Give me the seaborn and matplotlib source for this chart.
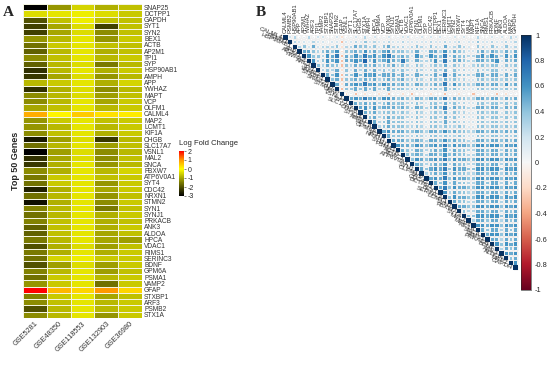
import numpy as np
import pandas as pd
import matplotlib
matplotlib.use("Agg")
import matplotlib.pyplot as plt
from matplotlib.colors import LinearSegmentedColormap, Normalize
import seaborn as sns

sns.set_theme(style="white")
plt.rcParams['font.family'] = ['Liberation Sans', 'DejaVu Sans']
plt.rcParams['axes.unicode_minus'] = False

# ---- panel A data: log fold change of the top 50 genes in 5 datasets ----
genes_a = ["SNAP25", "DCTPP1", "GAPDH", "SYT1", "SYN2", "BEX1", "ACTB", "AP2M1", "TPI1", "SYP",
           "HSP90AB1", "AMPH", "APP", "YWHAZ", "MAPT", "VCP", "OLFM1", "CALML4", "MAP2", "LCMT1",
           "KIF1A", "CHGB", "SLC17A7", "VSNL1", "MAL2", "SNCA", "FBXW7", "ATP6V0A1", "SYT4", "CDC42",
           "NRXN1", "STMN2", "SYN1", "SYNJ1", "PRKACB", "ANK3", "ALDOA", "HPCA", "VDAC1", "RIMS1",
           "SERINC3", "BDNF", "GPM6A", "PSMA1", "VAMP2", "GFAP", "STXBP1", "ARF3", "PSMB2", "STX1A"]
datasets = ["GSE5281", "GSE48350", "GSE118553", "GSE132903", "GSE36980"]

gse5281 = [-3.0, -0.4, -2.0, -2.2, -2.2, -1.2, -1.6, -1.8, -1.3, -1.8,
           -2.4, -2.3, -0.8, -2.4, -1.3, -1.3, -1.0, 0.8, -1.2, -1.2,
           -1.3, -2.7, -1.6, -3.0, -2.4, -2.3, -1.3, -1.5, -1.6, -2.6,
           -1.6, -2.8, -1.4, -1.6, -1.4, -1.8, -1.8, -1.5, -2.0, -1.5,
           -1.6, -2.0, -1.4, -1.6, -1.2, 2.0, -1.4, -1.3, -2.0, -1.3]
gse48350 = [-1.2, -0.3, -0.7, -1.0, -1.0, -0.8, -0.6, -0.8, -0.7, -0.8,
            -0.8, -1.0, -0.6, -0.9, -0.8, -0.8, -0.7, 0.1, -0.6, -0.8,
            -0.7, -1.1, -0.8, -1.1, -1.0, -0.9, -0.9, -0.6, -0.6, -0.9,
            -0.8, -0.9, -0.8, -0.8, -0.7, -0.7, -0.7, -0.8, -0.9, -0.9,
            -0.5, -1.1, -0.8, -0.6, -0.6, 0.7, -0.6, -0.7, -0.8, -0.8]
gse118553 = [-0.5, -0.2, -0.2, -0.4, -0.4, -0.3, -0.3, -0.3, -0.3, -0.4,
             -0.3, -0.4, -0.3, -0.4, -0.4, -0.3, -0.3, 0.5, -0.3, -0.3,
             -0.3, -0.4, -0.3, -0.4, -0.4, -0.3, -0.3, -0.3, -0.3, -0.3,
             -0.3, -0.3, -0.3, -0.3, -0.3, -0.3, -0.3, -0.3, -0.4, -0.3,
             -0.2, -0.4, -0.3, -0.3, -0.3, 0.4, -0.3, -0.3, -0.3, -0.3]
gse132903 = [-0.9, -0.4, -0.7, -2.2, -1.3, -1.2, -0.7, -0.9, -0.8, -1.5,
             -0.9, -1.2, -0.9, -1.3, -1.1, -1.0, -0.8, 0.3, -0.7, -0.8,
             -0.9, -2.3, -1.1, -1.3, -1.3, -1.2, -0.8, -0.7, -1.2, -1.0,
             -1.2, -1.3, -1.5, -0.9, -0.9, -0.9, -1.0, -1.0, -1.1, -0.9,
             -0.6, -1.1, -1.1, -0.8, -1.6, 1.0, -1.0, -0.8, -0.8, -1.2]
gse36980 = [-0.7, -0.6, -0.7, -0.7, -0.7, -0.6, -0.7, -0.7, -0.6, -0.8,
            -0.6, -0.8, -0.5, -0.8, -0.7, -0.6, -0.6, 0.2, -0.6, -0.6,
            -0.6, -0.8, -0.7, -0.8, -0.7, -0.8, -0.5, -0.6, -0.6, -0.6,
            -0.7, -0.6, -0.7, -0.6, -0.7, -0.6, -0.7, -1.1, -0.7, -0.6,
            -0.6, -0.6, -0.7, -0.6, -0.6, 0.4, -0.7, -0.6, -0.6, -0.6]

# ---- panel B data: correlation matrix (upper triangle), hclust order ----
genes_b = ["CALML4", "PSMB2", "HSP90AB1", "APP", "AP2M1", "YWHAZ", "ARF3", "TPI1", "VAMP2", "STXBP1",
           "SNAP25", "STMN2", "GFAP", "VSNL1", "SYT1", "SLC17A7", "CHGB", "STX1A", "AMPH", "HPCA",
           "GPM6A", "VCP", "NRXN1", "SYNJ1", "PSMA1", "ACTB", "VDAC1", "ATP6V0A1", "SYN1", "OLFM1",
           "SYP", "CDC42", "DCTPP1", "BEX1", "SERINC3", "LCMT1", "SYN2", "FBXW7", "SYT4", "MAL2",
           "MAPT", "KIF1A", "SNCA", "RIMS1", "PRKACB", "BDNF", "ANK3", "ALDOA", "MAP2", "GAPDH"]
# one string per row, one character per column: digit d -> d/10, 'b' -> -0.15, 'a' -> -0.3, '.' -> not drawn
corr_rows = [
    ".231131221 12b1121312 1121122112 1212112121 1311212132",
    "..32213221 22a2232423 2232232222 2322322312 2422322323",
    "...3425233 34b3354434 2453332343 2432523432 1432432423",
    "....554345 46b4454645 3564443352 2553635432 2453543535",
    ".....64436 57a5464756 4675454264 3654735443 3564653646",
    "......6346 56a5565846 4565474253 3463735543 3554562545",
    ".......435 44a4354545 3445343243 2343524332 3443442434",
    "........34 35b4253535 3434343243 2343514332 2433442334",
    ".........5 46a4464656 4555454354 3454735443 3554553545",
    ".......... 45a4454545 3454453343 2443534332 2443443434",
    ".......... .5b5565756 4655454354 3454736443 3554553645",
    ".......... ..a4454545 3454443343 2443534332 2443443434",
    ".......... ...b1a1b11 b1a11b1a01 1b10a11b10 a11b1a1b11",
    ".......... ....565756 4665454354 3554735443 3554553545",
    ".......... .....54545 3454443343 2443534332 2443443434",
    ".......... ......5646 4555454354 3454735443 3554553545",
    ".......... .......545 3444343243 2343524332 2443442434",
    ".......... ........45 3454443343 2443534332 2443443434",
    ".......... .........5 3454443343 2443534332 2443443434",
    ".......... .......... 3454443343 2443433432 2443443434",
    ".......... .......... .565554454 3554645443 3554554545",
    ".......... .......... ..54443343 2443433432 2443443434",
    ".......... .......... ...5554454 3554645443 3554554545",
    ".......... .......... ....655465 4565746554 4665664656",
    ".......... .......... .....54354 3454635443 3554553545",
    ".......... .......... ......4454 3554645443 3554554545",
    ".......... .......... .......465 4565746554 4665664656",
    ".......... .......... ........54 3454635443 3554553545",
    ".......... .......... .........5 4565746554 4665664656",
    ".......... .......... .......... 3454635443 3554553545",
    ".......... .......... .......... .565746554 4665664656",
    ".......... .......... .......... ..54635443 3554553545",
    ".......... .......... .......... ...5746554 4665664656",
    ".......... .......... .......... ....635443 3554553545",
    ".......... .......... .......... .....46554 4665664656",
    ".......... .......... .......... ......5443 3554553545",
    ".......... .......... .......... .......554 4665664656",
    ".......... .......... .......... ........43 3554553545",
    ".......... .......... .......... .........4 4665664656",
    ".......... .......... .......... .......... 3554553545",
    ".......... .......... .......... .......... .665664656",
    ".......... .......... .......... .......... ..54553545",
    ".......... .......... .......... .......... ...5664656",
    ".......... .......... .......... .......... ....553545",
    ".......... .......... .......... .......... .....64656",
    ".......... .......... .......... .......... ......3545",
    ".......... .......... .......... .......... .......656",
    ".......... .......... .......... .......... ........45",
    ".......... .......... .......... .......... .........6",
    ".......... .......... .......... .......... ..........",
]
cb_ticks = [1, 0.8, 0.6, 0.4, 0.2, 0, -0.2, -0.4, -0.6, -0.8, -1]
lfc_ticks = [2, 1, 0, -1, -2, -3]

code = {"a": -0.3, "b": -0.15}
records = []
for i, row in enumerate(corr_rows):
    row = row.replace(" ", "")
    assert len(row) == 50, (i, len(row))
    for j, ch in enumerate(row):
        if j == i:
            records.append((j, i, 1.0))
        elif ch != ".":
            records.append((j, i, code[ch] if ch in code else int(ch) / 10))
corr_df = pd.DataFrame(records, columns=["col", "row", "r"])
corr_df["x"] = corr_df["col"] + 0.5
corr_df["y"] = corr_df["row"] + 0.5
corr_df["absr"] = corr_df["r"].abs()

lfc = pd.DataFrame({"GSE5281": gse5281, "GSE48350": gse48350, "GSE118553": gse118553,
                    "GSE132903": gse132903, "GSE36980": gse36980}, index=genes_a)[datasets]

fig = plt.figure(figsize=(5.5, 3.73), dpi=100)
W, H = 550, 373


def px_axes(x0, y0, x1, y1):
    return fig.add_axes([x0 / W, 1 - y1 / H, (x1 - x0) / W, (y1 - y0) / H])


# ---------------- Panel A ----------------
axA = px_axes(23, 4, 142, 318)
caxA = px_axes(179, 151, 184, 196)
lfc_cmap = LinearSegmentedColormap.from_list(
    "lfc", [(0.0, "#000000"), (0.3, "#7a7a00"), (0.6, "#ffff00"), (0.8, "#ff9900"), (1.0, "#ff0000")])
sns.heatmap(lfc, ax=axA, cmap=lfc_cmap, vmin=-3, vmax=2, linewidths=0.5, linecolor="#f4f4e0",
            cbar_ax=caxA, xticklabels=True, yticklabels=True)
axA.yaxis.tick_right()
axA.tick_params(axis="both", length=0, pad=1.5, colors="#333333")
axA.set_yticklabels(genes_a, rotation=0, fontsize=4.8)
axA.set_xticklabels(datasets, rotation=45, ha="right", rotation_mode="anchor", fontsize=5.3)
axA.set_ylabel("Top 50 Genes", fontsize=6.5, fontweight="bold", labelpad=2)
axA.set_xlabel("")
caxA.set_yticks(lfc_ticks)
caxA.tick_params(labelsize=5, length=1.5, width=0.4, pad=1)
caxA.set_title("Log Fold Change", fontsize=5.5, loc="left", pad=4.5)
fig.text(3 / W, 1 - 12 / H, "A", fontsize=11, fontweight="bold", family="Liberation Serif", va="center")

# ---------------- Panel B ----------------
axB = px_axes(283, 35, 518, 270)
caxB = px_axes(521, 35, 531, 290)
cell_pt = 235 / 50 * 0.72
sns.scatterplot(data=corr_df, x="x", y="y", color="white", edgecolor="#d6d6d6", linewidth=0.3,
                marker="s", s=cell_pt ** 2, legend=False, ax=axB)
sns.scatterplot(data=corr_df, x="x", y="y", hue="r", palette="RdBu", hue_norm=(-1, 1),
                size="absr", sizes=(0, cell_pt ** 2 * 0.9), size_norm=(0, 1), marker="s", linewidth=0,
                legend=False, ax=axB)
axB.set_xlim(0, 50)
axB.set_ylim(50, 0)
axB.set_xlabel("")
axB.set_ylabel("")
axB.set_xticks([])
axB.set_yticks([])
for sp in axB.spines.values():
    sp.set_visible(False)
for i, g in enumerate(genes_b):
    axB.text(i - 0.2, i + 0.6, g, ha="right", va="center", fontsize=4.6, color="#333333",
             rotation=-22, rotation_mode="anchor")
    axB.text(i + 0.5, -0.4, g, ha="left", va="center", fontsize=4.2, color="#333333",
             rotation=90, rotation_mode="anchor")

sm = plt.cm.ScalarMappable(cmap="RdBu", norm=Normalize(-1, 1))
cbB = fig.colorbar(sm, cax=caxB)
cbB.set_ticks(cb_ticks)
cbB.set_ticklabels([f"{t:g}" for t in cb_ticks])
cbB.outline.set_linewidth(0.4)
caxB.tick_params(labelsize=5.3, length=0, pad=3)
fig.text(256 / W, 1 - 12 / H, "B", fontsize=11, fontweight="bold", family="Liberation Serif", va="center")

fig.savefig("out.png", dpi=100)
